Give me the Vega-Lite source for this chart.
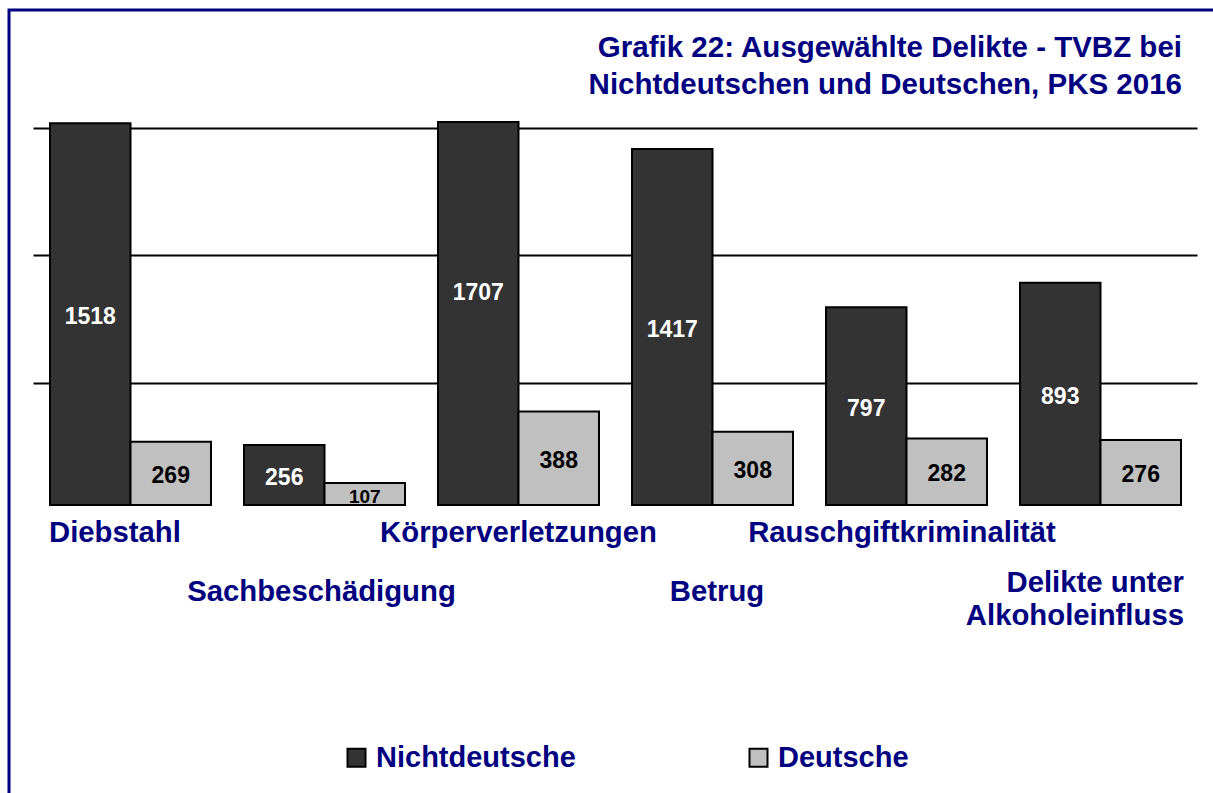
{
  "$schema": "https://vega.github.io/schema/vega-lite/v6.json",
  "autosize": {"type": "none"},
  "padding": {"left": 9, "top": 10, "right": 0, "bottom": 0},
  "width": 1204,
  "height": 783,
  "background": "white",
  "title": {
    "text": ["Grafik 22: Ausgewählte Delikte - TVBZ bei", "Nichtdeutschen und Deutschen, PKS 2016"],
    "orient": "top",
    "anchor": "end",
    "frame": "group",
    "align": "right",
    "baseline": "top",
    "offset": -90,
    "dx": -31,
    "font": "Liberation Sans",
    "fontSize": 29.5,
    "fontWeight": "bold",
    "color": "#000080",
    "lineHeight": 37
  },
  "data": {
    "values": [
      {"category": "Diebstahl", "group": "Nichtdeutsche", "value": 1518},
      {"category": "Diebstahl", "group": "Deutsche", "value": 269},
      {"category": "Sachbeschädigung", "group": "Nichtdeutsche", "value": 256},
      {"category": "Sachbeschädigung", "group": "Deutsche", "value": 107},
      {"category": "Körperverletzungen", "group": "Nichtdeutsche", "value": 1707},
      {"category": "Körperverletzungen", "group": "Deutsche", "value": 388},
      {"category": "Betrug", "group": "Nichtdeutsche", "value": 1417},
      {"category": "Betrug", "group": "Deutsche", "value": 308},
      {"category": "Rauschgiftkriminalität", "group": "Nichtdeutsche", "value": 797},
      {"category": "Rauschgiftkriminalität", "group": "Deutsche", "value": 282},
      {"category": "Delikte unter Alkoholeinfluss", "group": "Nichtdeutsche", "value": 893},
      {"category": "Delikte unter Alkoholeinfluss", "group": "Deutsche", "value": 276}
    ]
  },
  "encoding": {
    "x": {
      "field": "category",
      "type": "nominal",
      "sort": ["Diebstahl", "Sachbeschädigung", "Körperverletzungen", "Betrug", "Rauschgiftkriminalität", "Delikte unter Alkoholeinfluss"],
      "scale": {"paddingInner": 0.1701, "paddingOuter": 0.18814, "align": 0.5616},
      "axis": {
        "orient": "bottom",
        "offset": -288,
        "title": null,
        "domain": false,
        "ticks": false,
        "tickSize": 0,
        "labelAngle": 0,
        "labelFont": "Liberation Sans",
        "labelFontSize": 29.3,
        "labelFontWeight": "bold",
        "labelColor": "#000080",
        "labelBaseline": "top",
        "labelLineHeight": 33,
        "labelLimit": 1000,
        "labelOverlap": false,
        "labelBound": false,
        "labelFlush": false,
        "labelExpr": "datum.value == 'Delikte unter Alkoholeinfluss' ? ['Delikte unter', 'Alkoholeinfluss'] : datum.label",
        "labelAlign": {
          "condition": [
            {"test": "datum.value == 'Diebstahl'", "value": "left"},
            {"test": "datum.value == 'Delikte unter Alkoholeinfluss'", "value": "right"}
          ],
          "value": "center"
        },
        "labelOffset": {
          "condition": [
            {"test": "datum.value == 'Diebstahl'", "value": -81.5},
            {"test": "datum.value == 'Delikte unter Alkoholeinfluss'", "value": 83.5},
            {"test": "datum.value == 'Sachbeschädigung'", "value": -3},
            {"test": "datum.value == 'Betrug'", "value": 4.5},
            {"test": "datum.value == 'Rauschgiftkriminalität'", "value": -4.5}
          ],
          "value": 0
        },
        "labelPadding": {
          "condition": [
            {"test": "datum.value == 'Sachbeschädigung' || datum.value == 'Betrug'", "value": 72},
            {"test": "datum.value == 'Delikte unter Alkoholeinfluss'", "value": 63}
          ],
          "value": 13
        }
      }
    },
    "xOffset": {
      "field": "group",
      "type": "nominal",
      "sort": ["Nichtdeutsche", "Deutsche"],
      "scale": {"paddingInner": 0, "paddingOuter": 0}
    }
  },
  "layer": [
    {
      "mark": {"type": "bar", "stroke": "black", "strokeWidth": 2},
      "encoding": {
        "y": {
          "field": "value",
          "type": "quantitative",
          "scale": {"domain": [21, 1523], "range": [495, 112], "clamp": true, "nice": false, "zero": false},
          "axis": {
            "title": null,
            "values": [500, 1000, 1500],
            "grid": true,
            "gridColor": "black",
            "gridWidth": 2,
            "gridOpacity": 1,
            "gridDash": [0, 24, 1164, 60],
            "domain": false,
            "ticks": false,
            "labels": false
          }
        },
        "color": {
          "field": "group",
          "type": "nominal",
          "sort": ["Nichtdeutsche", "Deutsche"],
          "scale": {"domain": ["Nichtdeutsche", "Deutsche"], "range": ["#333333", "#c0c0c0"]},
          "legend": {
            "orient": "none",
            "direction": "horizontal",
            "legendX": 333,
            "legendY": 733,
            "title": null,
            "padding": 0,
            "symbolType": "square",
            "symbolSize": 324,
            "symbolStrokeColor": "black",
            "symbolStrokeWidth": 2,
            "symbolOpacity": 1,
            "labelFont": "Liberation Sans",
            "labelFontSize": 29,
            "labelFontWeight": "bold",
            "labelColor": "#000080",
            "labelLimit": 600,
            "labelOffset": 5,
            "columnPadding": 168
          }
        }
      }
    },
    {
      "mark": {"type": "text", "font": "Liberation Sans", "fontWeight": "bold", "baseline": "middle", "align": "center"},
      "encoding": {
        "y": {
          "field": "value",
          "type": "quantitative",
          "scale": {"domain": [42, 3046], "range": [495, 112], "nice": false, "zero": false},
          "axis": null
        },
        "text": {"field": "value", "type": "quantitative"},
        "color": {"condition": {"test": "datum.group === 'Nichtdeutsche'", "value": "white"}, "value": "black"},
        "size": {"condition": {"test": "datum.value < 150", "value": 19}, "value": 23}
      }
    }
  ],
  "resolve": {"scale": {"y": "independent"}},
  "config": {
    "view": {"stroke": "#000080", "strokeWidth": 3, "strokeDash": [1204, 1987, 783], "fill": "white"},
    "font": "Liberation Sans"
  }
}
